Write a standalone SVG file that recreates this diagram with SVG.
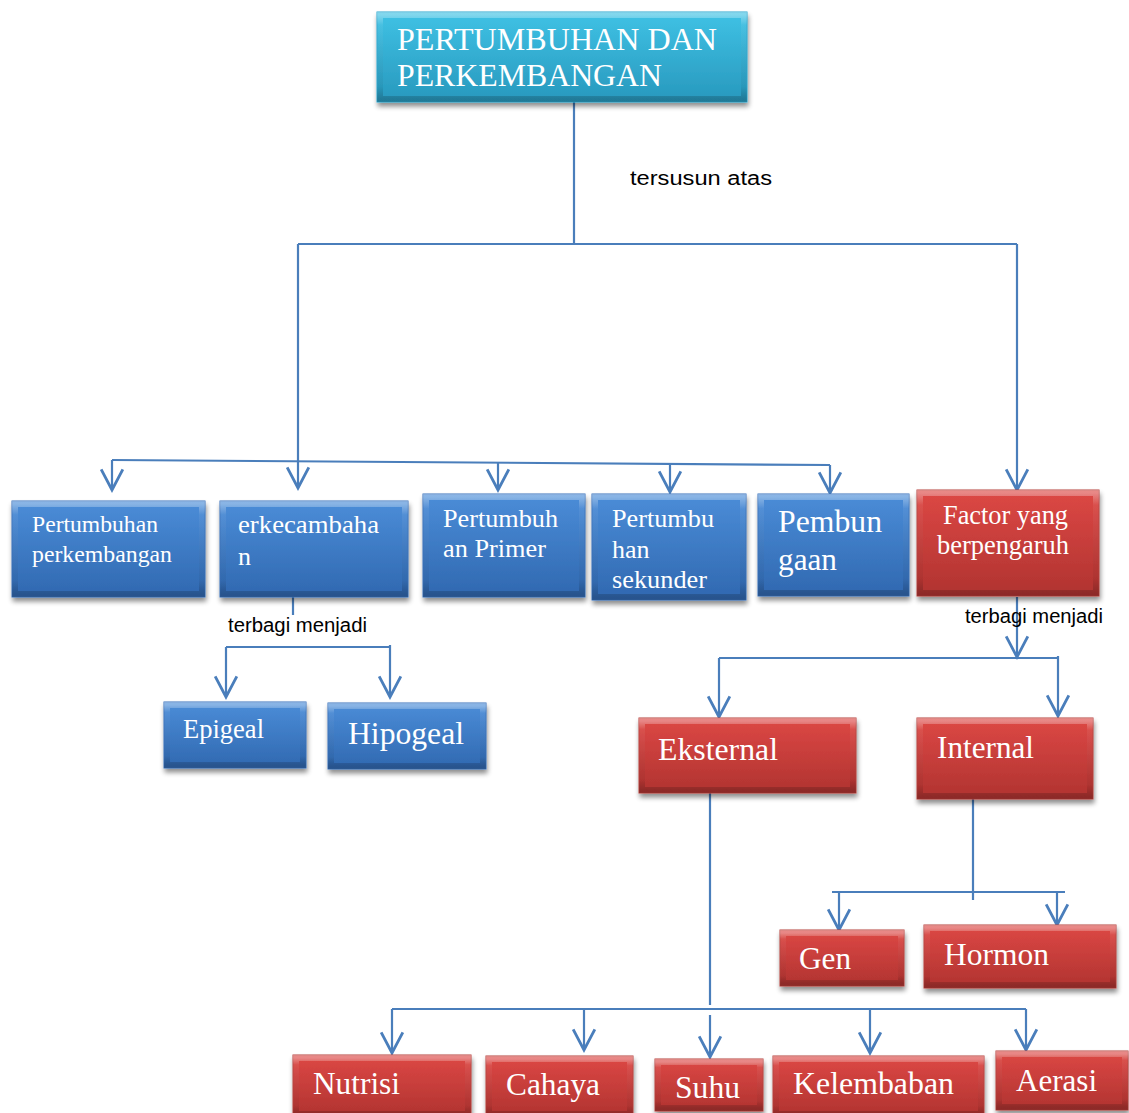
<svg xmlns="http://www.w3.org/2000/svg" width="1129" height="1113" viewBox="0 0 1129 1113">
<defs>
<linearGradient id="gb" x1="0" y1="0" x2="0" y2="1"><stop offset="0" stop-color="#4b8dd8"/><stop offset="1" stop-color="#3068b0"/></linearGradient>
<linearGradient id="gr" x1="0" y1="0" x2="0" y2="1"><stop offset="0" stop-color="#dd4845"/><stop offset="1" stop-color="#b03330"/></linearGradient>
<linearGradient id="gc" x1="0" y1="0" x2="0" y2="1"><stop offset="0" stop-color="#3fc2e5"/><stop offset="1" stop-color="#2898bd"/></linearGradient>
<linearGradient id="bev" x1="0" y1="0" x2="0" y2="1"><stop offset="0" stop-color="#ffffff" stop-opacity="0.35"/><stop offset="0.12" stop-color="#ffffff" stop-opacity="0.06"/><stop offset="0.85" stop-color="#000000" stop-opacity="0.05"/><stop offset="1" stop-color="#000000" stop-opacity="0.2"/></linearGradient>
<filter id="sh" x="-10%" y="-10%" width="125%" height="140%"><feGaussianBlur in="SourceAlpha" stdDeviation="2.5"/><feOffset dx="1" dy="4"/><feComponentTransfer><feFuncA type="linear" slope="0.45"/></feComponentTransfer><feMerge><feMergeNode/><feMergeNode in="SourceGraphic"/></feMerge></filter>
<marker id="ar" markerUnits="userSpaceOnUse" markerWidth="26" markerHeight="26" refX="21" refY="12" orient="auto" viewBox="0 0 24 24"><path d="M2,2 L21,12 L2,22" fill="none" stroke="#4a7ebb" stroke-width="2.6"/></marker>
<style>
.b{fill:url(#gb);stroke:#3a73bb;stroke-width:1}
.r{fill:url(#gr);stroke:#b8403d;stroke-width:1}
.c{fill:url(#gc);stroke:#2fa8cf;stroke-width:1}
.bv{fill:none;stroke:url(#bev);stroke-width:6}
.t{font-family:"Liberation Serif","Times New Roman",serif;fill:#ffffff}
.s{font-family:"Liberation Sans",Arial,sans-serif;fill:#000000;font-size:20px}
.ln{fill:none;stroke:#4a7ebb;stroke-width:2.2}
.la{fill:none;stroke:#4a7ebb;stroke-width:2.2;marker-end:url(#ar)}
</style>
</defs>
<g id="connectors">
<path class="ln" d="M574,102 V244"/>
<path class="ln" d="M298,244 H1017"/>
<path class="la" d="M298,244 V488"/>
<path class="la" d="M1017,244 V490"/>
<path class="ln" d="M112,460 L830,465"/>
<path class="la" d="M112,460 V490"/>
<path class="la" d="M498,463 V490"/>
<path class="la" d="M670,464 V492"/>
<path class="la" d="M830,465 V493"/>
<path class="ln" d="M293,597 V615"/>
<path class="ln" d="M226,647 H390"/>
<path class="la" d="M226,647 V697"/>
<path class="la" d="M390,645 V697"/>
<path class="la" d="M1017,597 V657"/>
<path class="ln" d="M719,658 H1058"/>
<path class="la" d="M719,658 V717"/>
<path class="la" d="M1058,656 V716"/>
<path class="ln" d="M973,799 V900"/>
<path class="ln" d="M832,892 H1065"/>
<path class="la" d="M839,892 V930"/>
<path class="la" d="M1057,892 V925"/>
<path class="ln" d="M710,790 V1005"/>
<path class="ln" d="M392,1009 H1026"/>
<path class="la" d="M392,1009 V1053"/>
<path class="la" d="M584,1009 V1050"/>
<path class="la" d="M710,1015 V1057"/>
<path class="la" d="M870,1009 V1053"/>
<path class="la" d="M1026,1009 V1050"/>
</g>
<text class="s" x="630" y="185" textLength="142" lengthAdjust="spacingAndGlyphs">tersusun atas</text>
<text class="s" x="228" y="632" textLength="139" lengthAdjust="spacingAndGlyphs">terbagi menjadi</text>
<text class="s" x="965" y="623" textLength="138" lengthAdjust="spacingAndGlyphs">terbagi menjadi</text>
<g id="n-root"><rect class="c" x="377" y="12" width="370" height="90" filter="url(#sh)"/><rect class="bv" x="380" y="15" width="364" height="84"/><text class="t" font-size="32" x="397" y="50" textLength="320" lengthAdjust="spacingAndGlyphs">PERTUMBUHAN DAN</text><text class="t" font-size="32" x="397" y="86" textLength="265" lengthAdjust="spacingAndGlyphs">PERKEMBANGAN</text></g>
<g id="n-pp"><rect class="b" x="12" y="501" width="193" height="96" filter="url(#sh)"/><rect class="bv" x="15" y="504" width="187" height="90"/><text class="t" font-size="23.5" x="32" y="532" textLength="126" lengthAdjust="spacingAndGlyphs">Pertumbuhan</text><text class="t" font-size="23.5" x="32" y="562" textLength="140" lengthAdjust="spacingAndGlyphs">perkembangan</text></g>
<g id="n-erk"><rect class="b" x="220" y="501" width="188" height="96" filter="url(#sh)"/><rect class="bv" x="223" y="504" width="182" height="90"/><text class="t" font-size="26" x="238" y="533" textLength="141" lengthAdjust="spacingAndGlyphs">erkecambaha</text><text class="t" font-size="26" x="238" y="565">n</text></g>
<g id="n-prim"><rect class="b" x="423" y="494" width="162" height="103" filter="url(#sh)"/><rect class="bv" x="426" y="497" width="156" height="97"/><text class="t" font-size="26" x="443" y="527" textLength="115" lengthAdjust="spacingAndGlyphs">Pertumbuh</text><text class="t" font-size="26" x="443" y="557" textLength="103" lengthAdjust="spacingAndGlyphs">an Primer</text></g>
<g id="n-sek"><rect class="b" x="592" y="494" width="154" height="106" filter="url(#sh)"/><rect class="bv" x="595" y="497" width="148" height="100"/><text class="t" font-size="26" x="612" y="527" textLength="102" lengthAdjust="spacingAndGlyphs">Pertumbu</text><text class="t" font-size="26" x="612" y="558">han</text><text class="t" font-size="26" x="612" y="588" textLength="95" lengthAdjust="spacingAndGlyphs">sekunder</text></g>
<g id="n-pemb"><rect class="b" x="758" y="494" width="151" height="102" filter="url(#sh)"/><rect class="bv" x="761" y="497" width="145" height="96"/><text class="t" font-size="32" x="778" y="532" textLength="104" lengthAdjust="spacingAndGlyphs">Pembun</text><text class="t" font-size="32" x="778" y="570" textLength="59" lengthAdjust="spacingAndGlyphs">gaan</text></g>
<g id="n-factor"><rect class="r" x="917" y="490" width="182" height="106" filter="url(#sh)"/><rect class="bv" x="920" y="493" width="176" height="100"/><text class="t" font-size="26.5" x="943" y="524" textLength="125" lengthAdjust="spacingAndGlyphs">Factor yang</text><text class="t" font-size="26.5" x="937" y="554" textLength="132" lengthAdjust="spacingAndGlyphs">berpengaruh</text></g>
<g id="n-epi"><rect class="b" x="164" y="702" width="142" height="66" filter="url(#sh)"/><rect class="bv" x="167" y="705" width="136" height="60"/><text class="t" font-size="26.5" x="183" y="738" textLength="81" lengthAdjust="spacingAndGlyphs">Epigeal</text></g>
<g id="n-hipo"><rect class="b" x="328" y="703" width="158" height="66" filter="url(#sh)"/><rect class="bv" x="331" y="706" width="152" height="60"/><text class="t" font-size="31.5" x="348" y="744" textLength="116" lengthAdjust="spacingAndGlyphs">Hipogeal</text></g>
<g id="n-eks"><rect class="r" x="639" y="718" width="217" height="75" filter="url(#sh)"/><rect class="bv" x="642" y="721" width="211" height="69"/><text class="t" font-size="32" x="658" y="760" textLength="120" lengthAdjust="spacingAndGlyphs">Eksternal</text></g>
<g id="n-int"><rect class="r" x="917" y="718" width="176" height="81" filter="url(#sh)"/><rect class="bv" x="920" y="721" width="170" height="75"/><text class="t" font-size="32" x="937" y="758" textLength="97" lengthAdjust="spacingAndGlyphs">Internal</text></g>
<g id="n-gen"><rect class="r" x="780" y="930" width="124" height="56" filter="url(#sh)"/><rect class="bv" x="783" y="933" width="118" height="50"/><text class="t" font-size="30.5" x="799" y="969" textLength="52" lengthAdjust="spacingAndGlyphs">Gen</text></g>
<g id="n-hor"><rect class="r" x="924" y="925" width="192" height="63" filter="url(#sh)"/><rect class="bv" x="927" y="928" width="186" height="57"/><text class="t" font-size="32" x="944" y="965" textLength="105" lengthAdjust="spacingAndGlyphs">Hormon</text></g>
<g id="n-nut"><rect class="r" x="293" y="1055" width="178" height="62" filter="url(#sh)"/><rect class="bv" x="296" y="1058" width="172" height="56"/><text class="t" font-size="32" x="313" y="1094" textLength="87" lengthAdjust="spacingAndGlyphs">Nutrisi</text></g>
<g id="n-cah"><rect class="r" x="486" y="1056" width="147" height="61" filter="url(#sh)"/><rect class="bv" x="489" y="1059" width="141" height="55"/><text class="t" font-size="32" x="506" y="1095" textLength="94" lengthAdjust="spacingAndGlyphs">Cahaya</text></g>
<g id="n-suhu"><rect class="r" x="655" y="1059" width="108" height="52" filter="url(#sh)"/><rect class="bv" x="658" y="1062" width="102" height="46"/><text class="t" font-size="32" x="675" y="1098" textLength="65" lengthAdjust="spacingAndGlyphs">Suhu</text></g>
<g id="n-kel"><rect class="r" x="773" y="1056" width="211" height="61" filter="url(#sh)"/><rect class="bv" x="776" y="1059" width="205" height="55"/><text class="t" font-size="32" x="793" y="1094" textLength="161" lengthAdjust="spacingAndGlyphs">Kelembaban</text></g>
<g id="n-aer"><rect class="r" x="996" y="1051" width="132" height="59" filter="url(#sh)"/><rect class="bv" x="999" y="1054" width="126" height="53"/><text class="t" font-size="32" x="1016" y="1091" textLength="81" lengthAdjust="spacingAndGlyphs">Aerasi</text></g>
</svg>
